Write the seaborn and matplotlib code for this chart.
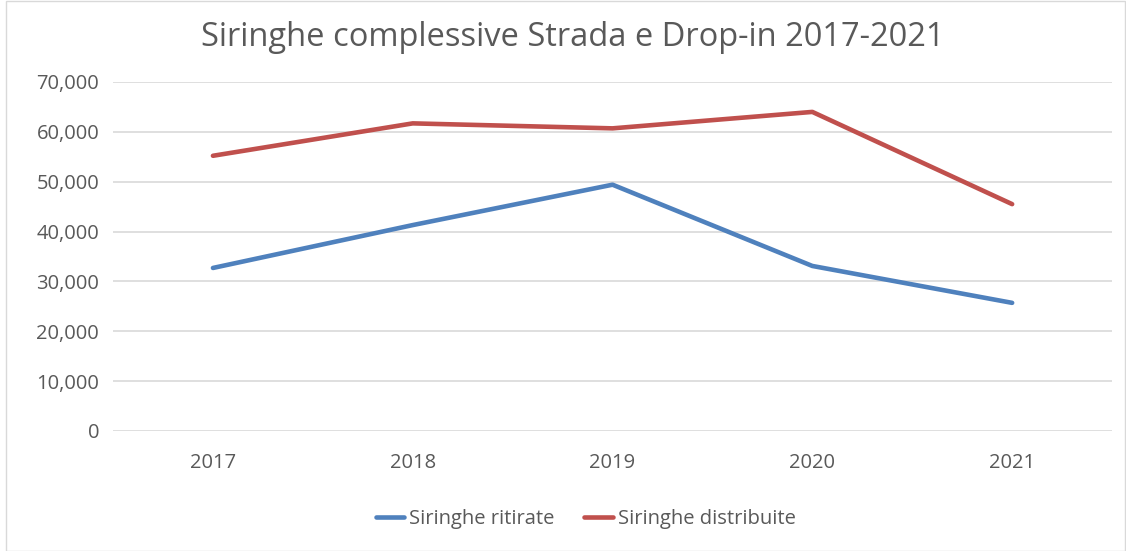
import pandas as pd
import matplotlib.pyplot as plt
import seaborn as sns
from matplotlib.ticker import FuncFormatter
from matplotlib.patches import Rectangle

anni = ["2017", "2018", "2019", "2020", "2021"]
ritirate = [32700, 41300, 49400, 33100, 25700]
distribuite = [55200, 61700, 60700, 64000, 45500]
serie = ["Siringhe ritirate", "Siringhe distribuite"]
colori = ["#4F81BD", "#C0504D"]

df = pd.DataFrame({
    "anno": anni * 2,
    "valore": ritirate + distribuite,
    "serie": [serie[0]] * 5 + [serie[1]] * 5,
})

sns.set_style("white")
plt.rcParams['font.family'] = ['Open Sans', 'DejaVu Sans']

fig = plt.figure(figsize=(11.26, 5.51), dpi=100)
ax = fig.add_axes([0.1004, 0.2178, 0.8872, 0.6334])

sns.lineplot(data=df, x="anno", y="valore", hue="serie", palette=colori,
             linewidth=3.3, ax=ax, sort=False)

ax.set_ylim(0, 70000)
ax.set_xlim(-0.5, 4.5)
ax.set_yticks(range(0, 70001, 10000))
ax.yaxis.set_major_formatter(FuncFormatter(lambda v, p: f"{int(v):,}"))
ax.grid(axis="y", color="#D9D9D9", linewidth=1.2)
ax.set_axisbelow(True)
for s in ax.spines.values():
    s.set_visible(False)
ax.tick_params(axis="both", length=0, labelsize=14.5, labelcolor="#595959")
ax.tick_params(axis="x", pad=16)
ax.tick_params(axis="y", pad=10)
ax.set_xlabel("")
ax.set_ylabel("")

fig.text(0.509, 0.932, "Siringhe complessive Strada e Drop-in 2017-2021",
         ha="center", va="center", fontsize=23.5, color="#595959")

ax.legend(loc="center", bbox_to_anchor=(0.473, -0.252), ncol=2, frameon=False,
          fontsize=14.5, labelcolor="#595959", handlelength=1.4,
          handletextpad=0.25, columnspacing=1.5)

fig.patches.append(Rectangle((0.005, 0.0), 0.994, 0.999, transform=fig.transFigure,
                             fill=False, edgecolor="#D9D9D9", linewidth=1))

fig.savefig("out.png", dpi=100)
